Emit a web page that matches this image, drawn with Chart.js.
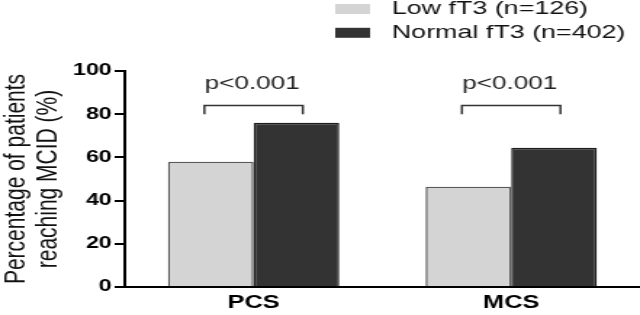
<!DOCTYPE html>
<html>
<head>
<meta charset="utf-8">
<script src="https://cdn.jsdelivr.net/npm/chart.js@4"></script>
<style>
  html, body { margin: 0; padding: 0; background: #fff; overflow: hidden; }
  /* the original figure is stretched sideways, so draw narrow and widen it */
  #wrap { width: 441px; height: 315px; transform: scaleX(1.4512); transform-origin: 0 0; }
</style>
</head>
<body>
<div id="wrap"><canvas id="mcid"></canvas></div>
<script>
const categories = ["PCS", "MCS"];
const seriesNames = ["Low fT3 (n=126)", "Normal fT3 (n=402)"];
const lowFt3 = [58, 46.4];
const normalFt3 = [76, 64.5];
const pValues = ["p<0.001", "p<0.001"];
const yTicks = [0, 20, 40, 60, 80, 100];

const FONT = "'Liberation Sans', Arial, sans-serif";

// legend stacked in two rows at the top right
const stackedLegend = {
  id: "stackedLegend",
  afterDraw(chart) {
    const ctx = chart.ctx;
    ctx.save();
    ctx.font = "18.5px " + FONT;
    ctx.textBaseline = "middle";
    ctx.textAlign = "left";
    chart.data.datasets.forEach((ds, i) => {
      const y = 9 + 23.8 * i;
      ctx.fillStyle = ds.backgroundColor;
      ctx.fillRect(231, y - 5, 24, 10);
      ctx.fillStyle = "#111";
      ctx.fillText(ds.label, 270, y);
    });
    ctx.restore();
  },
};

// significance brackets over each pair of bars
const sigBrackets = {
  id: "sigBrackets",
  afterDatasetsDraw(chart) {
    const ctx = chart.ctx;
    const y = chart.scales.y;
    const m0 = chart.getDatasetMeta(0);
    const m1 = chart.getDatasetMeta(1);
    ctx.save();
    pValues.forEach((txt, i) => {
      const b0 = m0.data[i];
      const b1 = m1.data[i];
      const mid = (b0.x + b1.x) / 2;
      const half = b0.width * 0.575;
      const top = y.getPixelForValue(84);
      const leg = y.getPixelForValue(80);
      ctx.strokeStyle = "#333";
      ctx.lineWidth = 1.5;
      ctx.beginPath();
      ctx.moveTo(mid - half, leg);
      ctx.lineTo(mid - half, top);
      ctx.lineTo(mid + half, top);
      ctx.lineTo(mid + half, leg);
      ctx.stroke();
      ctx.fillStyle = "#222";
      ctx.font = "18px " + FONT;
      ctx.textAlign = "center";
      ctx.textBaseline = "alphabetic";
      ctx.fillText(txt, mid - 1, y.getPixelForValue(91.7));
    });
    ctx.restore();
  },
};

new Chart(document.getElementById("mcid"), {
  type: "bar",
  data: {
    labels: categories,
    datasets: [
      {
        label: seriesNames[0],
        data: lowFt3,
        backgroundColor: "#d4d4d4",
        borderColor: "#5a5a5a",
        borderWidth: 1.5,
      },
      {
        label: seriesNames[1],
        data: normalFt3,
        backgroundColor: "#333333",
        borderColor: "#1c1c1c",
        borderWidth: 1.5,
      },
    ],
  },
  options: {
    responsive: true,
    maintainAspectRatio: false,
    animation: false,
    layout: { padding: { top: 71, left: 0, right: 0, bottom: 0 } },
    datasets: { bar: { categoryPercentage: 0.665, barPercentage: 1 } },
    plugins: {
      legend: { display: false },
      tooltip: { enabled: false },
    },
    scales: {
      x: {
        afterFit: (scale) => {
          scale.height = 28;
        },
        grid: { display: false, drawTicks: false },
        border: { display: true, color: "#000", width: 2 },
        ticks: {
          color: "#000",
          padding: 6,
          font: { family: FONT, size: 17.5, weight: "bold" },
        },
      },
      y: {
        min: 0,
        max: 100,
        afterBuildTicks: (scale) => {
          scale.ticks = yTicks.map((v) => ({ value: v }));
        },
        afterFit: (scale) => {
          scale.width = 86;
        },
        grid: {
          drawOnChartArea: false,
          drawTicks: true,
          tickLength: 7,
          color: "#000",
          lineWidth: 2,
        },
        border: { display: true, color: "#000", width: 2 },
        ticks: {
          color: "#000",
          padding: 2,
          font: { family: FONT, size: 16, weight: "bold" },
        },
        title: {
          display: true,
          text: ["Percentage of patients", "reaching MCID (%)"],
          color: "#111",
          padding: { top: 0, bottom: 0 },
          font: { family: FONT, size: 21, lineHeight: 1.05 },
        },
      },
    },
  },
  plugins: [stackedLegend, sigBrackets],
});
</script>
</body>
</html>
